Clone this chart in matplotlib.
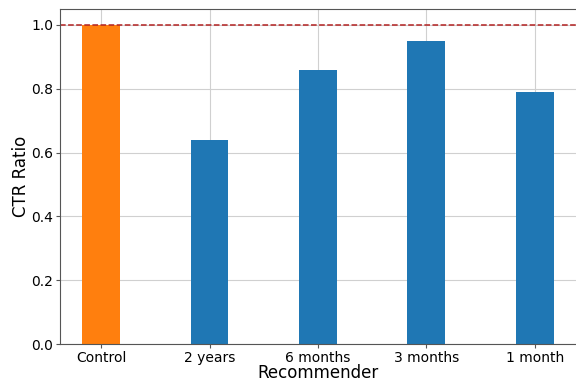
import numpy as np
import matplotlib.pyplot as plt

# CTR ratio of each recommender relative to the control group
recommenders = ['Control', '2 years', '6 months', '3 months', '1 month']
ctr_ratio = [1.0, 0.64, 0.86, 0.95, 0.79]
bar_colors = ['#ff7f0e', '#1f77b4', '#1f77b4', '#1f77b4', '#1f77b4']

fig = plt.figure(figsize=(5.76, 3.83), dpi=100)
# axes run past the right edge of the figure
ax = fig.add_axes([0.1042, 0.1018, 0.92, 0.8747])

x = np.arange(len(recommenders))
ax.bar(x, ctr_ratio, width=0.35, color=bar_colors)
ax.axhline(1.0, color='#b22222', linestyle='--', linewidth=1.1)

ax.set_xticks(x)
ax.set_xticklabels(recommenders)
ax.set_xlim(-0.378, 4.507)
ax.set_ylim(0, 1.05)
ax.set_yticks([0.0, 0.2, 0.4, 0.6, 0.8, 1.0])
ax.tick_params(labelsize=10, color='#555555', length=3, pad=2)

ax.set_xlabel('Recommender', fontsize=12)
ax.xaxis.set_label_coords(0.487, -0.1, transform=ax.transAxes)
ax.xaxis.label.set_va('baseline')
ax.set_ylabel('CTR Ratio', fontsize=12, labelpad=1)

ax.set_axisbelow(True)
ax.grid(True, color='#d0d0d0', linewidth=0.8)
for side in ax.spines.values():
    side.set_color('#555555')

fig.savefig('out.png', dpi=100)
